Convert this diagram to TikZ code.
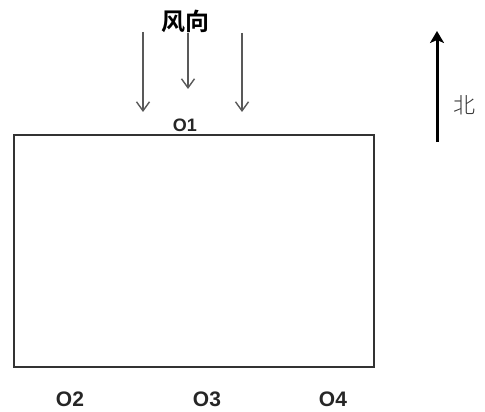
\documentclass[tikz,border=0pt]{standalone}
\usepackage{fontspec}
\setmainfont{Liberation Sans}
\newfontfamily\cjk{Noto Sans CJK SC}
\newfontfamily\cjkbold{Noto Sans CJK SC Bold}
\newfontfamily\cjklight{Noto Sans CJK SC Light}
\usetikzlibrary{arrows.meta}
\begin{document}
\begin{tikzpicture}[x=1pt,y=-1pt,
  lbl/.style={inner sep=0pt,font=\fontsize{21}{21}\selectfont\bfseries,text=black!85},
  wind/.style={draw=black!65,line width=1.4pt,-{Straight Barb[length=9pt,width=13pt,line width=1.4pt]}},
  north/.style={draw=black,line width=3pt,-{Stealth[length=12pt,width=14pt,inset=3pt]}}]
\useasboundingbox (0,0) rectangle (485,412);
\node[draw=black!80,line width=2pt,minimum width=360pt,minimum height=232pt,inner sep=0pt] (field) at (194,251) {};
\node[inner sep=0pt,font=\fontsize{24}{24}\selectfont\cjkbold] (wd) at (185,21) {风向};
\coordinate (a1s) at (143,32); \coordinate (a1e) at (143,112);
\coordinate (a2s) at (188,33); \coordinate (a2e) at (188,89);
\coordinate (a3s) at (242,33); \coordinate (a3e) at (242,112);
\draw[wind] (a1s) -- (a1e);
\draw[wind] (a2s) -- (a2e);
\draw[wind] (a3s) -- (a3e);
\node[lbl,font=\fontsize{18}{18}\selectfont\bfseries] (o1) at (185,125) {O1};
\node[lbl] (o2) at (70,399) {O2};
\node[lbl] (o3) at (207,399) {O3};
\node[lbl] (o4) at (333,399) {O4};
\coordinate (ns) at (437,142); \coordinate (ne) at (437,31);
\draw[north] (ns) -- (ne);
\node[inner sep=0pt,font=\fontsize{22}{22}\selectfont\cjklight,text=black!80] (bei) at (464,105) {北};
\end{tikzpicture}
\end{document}
